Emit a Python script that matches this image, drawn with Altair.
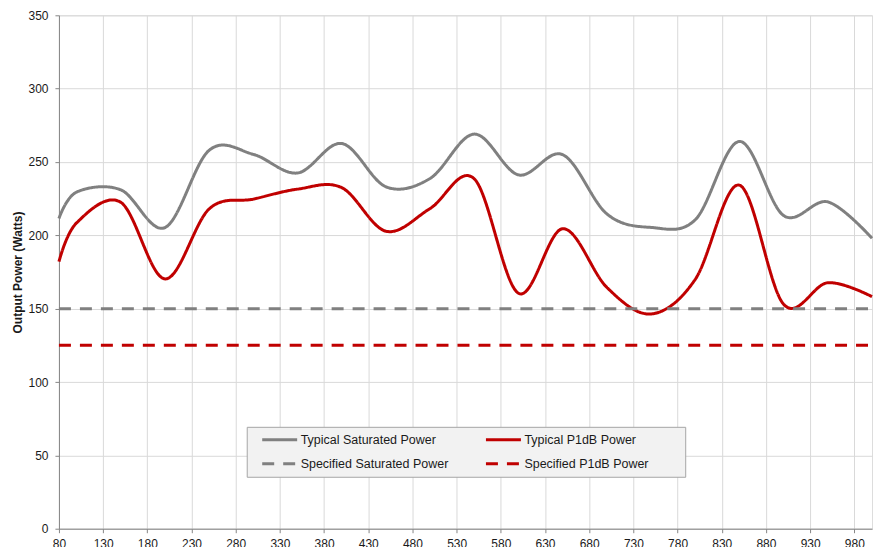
import altair as alt
import pandas as pd

# Frequency points (MHz) of the measured curves
freq = [80, 100, 150, 200, 250, 300, 350, 400, 450, 500,
        550, 600, 650, 700, 750, 800, 850, 900, 950, 1000]
typical_saturated = [211.5, 229.5, 231.0, 205.3, 258.0, 255.2, 242.5, 262.6, 233.1, 238.8,
                     269.0, 241.2, 255.0, 214.6, 205.4, 210.6, 264.0, 213.5, 222.8, 198.0]
typical_p1db = [182.0, 208.5, 222.5, 170.3, 218.0, 224.7, 231.5, 232.5, 202.8, 218.3,
                238.5, 160.5, 204.5, 164.5, 146.4, 170.0, 234.2, 153.0, 167.7, 158.2]

# Specification limits (flat lines across the band)
spec_freq = [80, 1000]
specified_saturated = [150, 150]
specified_p1db = [125, 125]

series_names = ["Typical Saturated Power", "Typical P1dB Power",
                "Specified Saturated Power", "Specified P1dB Power"]
series_colors = ["#808080", "#c00000", "#808080", "#c00000"]
series_dashes = [[1, 0], [1, 0], [12, 9], [12, 9]]

x_ticks = [80, 130, 180, 230, 280, 330, 380, 430, 480, 530,
           580, 630, 680, 730, 780, 830, 880, 930, 980]
y_ticks = [0, 50, 100, 150, 200, 250, 300, 350]

rows = []
for f, v in zip(freq, typical_saturated):
    rows.append({"freq": f, "power": v, "series": series_names[0]})
for f, v in zip(freq, typical_p1db):
    rows.append({"freq": f, "power": v, "series": series_names[1]})
for f, v in zip(spec_freq, specified_saturated):
    rows.append({"freq": f, "power": v, "series": series_names[2]})
for f, v in zip(spec_freq, specified_p1db):
    rows.append({"freq": f, "power": v, "series": series_names[3]})
df = pd.DataFrame(rows)

FONT = "Liberation Sans"

# a blank title placed on the right gives the legend box its wider right margin
legend = alt.Legend(
    title="\u00a0",
    titleOrient="right",
    titlePadding=31,
    titleFont=FONT,
    titleFontSize=12,
    orient="none",
    legendX=188,
    legendY=412,
    direction="horizontal",
    columns=2,
    symbolType="stroke",
    symbolSize=1225,
    symbolStrokeWidth=3,
    symbolOffset=8,
    labelOffset=2,
    labelFont=FONT,
    labelFontSize=12.5,
    labelColor="#1a1a1a",
    labelLimit=400,
    fillColor="#f2f2f2",
    strokeColor="#a6a6a6",
    padding=6,
    clipHeight=14,
    rowPadding=10,
    columnPadding=27,
)

chart = alt.Chart(df).mark_line(interpolate="cardinal", strokeWidth=3).encode(
    x=alt.X("freq:Q",
            scale=alt.Scale(domain=[80, 1000], nice=False, zero=False),
            axis=alt.Axis(values=x_ticks, title=None, labelFont=FONT, labelFontSize=12,
                          labelColor="#1a1a1a", labelPadding=6, tickSize=4,
                          tickColor="#868686", domainColor="#868686",
                          gridColor="#d9d9d9", labelFlush=False)),
    y=alt.Y("power:Q",
            scale=alt.Scale(domain=[0, 350], nice=False),
            axis=alt.Axis(values=y_ticks, title="Output Power (Watts)", titleFont=FONT,
                          titleFontSize=12, titleFontWeight="bold", titleColor="#1a1a1a",
                          titlePadding=3, labelFont=FONT, labelFontSize=12,
                          labelColor="#1a1a1a", labelPadding=7, tickSize=4,
                          tickColor="#868686", domainColor="#868686",
                          gridColor="#d9d9d9")),
    color=alt.Color("series:N", scale=alt.Scale(domain=series_names, range=series_colors),
                    legend=legend),
    strokeDash=alt.StrokeDash("series:N", scale=alt.Scale(domain=series_names, range=series_dashes),
                              legend=legend),
    order=alt.Order("freq:Q"),
).properties(
    width=814,
    height=514,
    autosize=alt.AutoSizeParams(type="none"),
    padding={"left": 51, "top": 7, "right": 3, "bottom": 18},
).configure_view(
    stroke=None
).configure(
    background="white"
)

chart.save("out.html", embed_options={"renderer": "svg", "actions": False})
